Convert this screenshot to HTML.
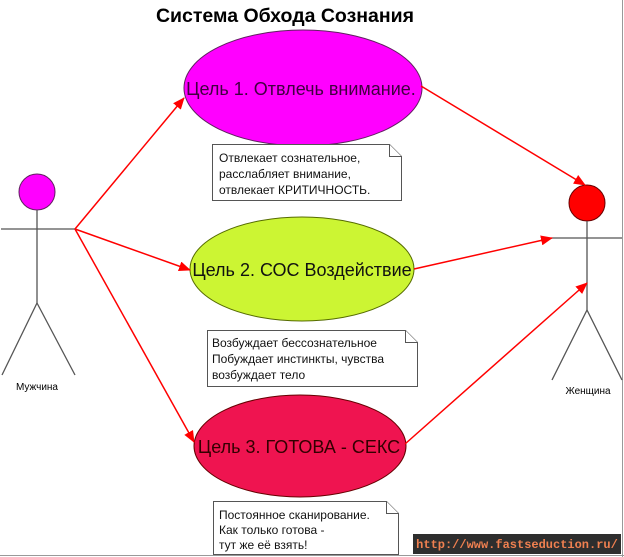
<!DOCTYPE html>
<html><head><meta charset="utf-8"><style>
html,body{margin:0;padding:0;background:#fff;}
svg{display:block;font-family:"Liberation Sans",Arial,sans-serif;}
</style></head><body>
<svg width="624" height="557" viewBox="0 0 624 557" xmlns="http://www.w3.org/2000/svg">
<defs>
<marker id="ar" markerWidth="12" markerHeight="10" refX="11" refY="5" orient="auto" markerUnits="userSpaceOnUse">
<path d="M0,0 L12,5 L0,10 z" fill="#f00"/>
</marker>
</defs>
<rect x="0" y="0" width="624" height="557" fill="#fff"/>
<line x1="622.5" y1="0" x2="622.5" y2="557" stroke="#999" stroke-width="1"/>
<line x1="0" y1="555.5" x2="624" y2="555.5" stroke="#999" stroke-width="1"/>
<text x="285" y="22" font-size="19.5" font-weight="bold" text-anchor="middle">Система Обхода Сознания</text>

<!-- Man -->
<circle cx="37" cy="192" r="18" fill="#f0f" stroke="#602060" stroke-width="1"/>
<g stroke="#555" stroke-width="1.3" fill="none">
<line x1="1" y1="229" x2="75" y2="229"/>
<line x1="37" y1="210" x2="37" y2="303"/>
<line x1="37" y1="303" x2="2" y2="375"/>
<line x1="37" y1="303" x2="75" y2="375"/>
</g>
<text x="37" y="390" font-size="10" text-anchor="middle">Мужчина</text>

<!-- Woman -->
<circle cx="587" cy="203" r="18" fill="#f00" stroke="#600" stroke-width="1"/>
<g stroke="#555" stroke-width="1.3" fill="none">
<line x1="552" y1="238" x2="622" y2="238"/>
<line x1="587" y1="221" x2="587" y2="310"/>
<line x1="587" y1="310" x2="552" y2="380"/>
<line x1="587" y1="310" x2="622" y2="380"/>
</g>
<text x="588" y="394" font-size="10" text-anchor="middle">Женщина</text>

<!-- Ellipses -->
<ellipse cx="303" cy="88" rx="119" ry="58" fill="#f0f" stroke="#602060" stroke-width="1"/>
<text x="301" y="95" font-size="18" text-anchor="middle" fill="#400040">Цель 1. Отвлечь внимание.</text>
<ellipse cx="302" cy="269" rx="112" ry="52" fill="#ccf533" stroke="#556b00" stroke-width="1"/>
<text x="302" y="276" font-size="18" text-anchor="middle" fill="#111">Цель 2. СОС Воздействие</text>
<ellipse cx="300" cy="446" rx="106" ry="51" fill="#ef1450" stroke="#600" stroke-width="1"/>
<text x="299" y="453" font-size="18" text-anchor="middle" fill="#300">Цель 3. ГОТОВА - СЕКС</text>

<!-- Notes -->
<g fill="#fff" stroke="#555" stroke-width="1">
<path d="M212.5,144.5 H389.5 L401.5,156.5 V200.5 H212.5 Z"/>
<path d="M389.5,144.5 V156.5 H401.5"/>
<path d="M207.5,330.5 H405.5 L417.5,342.5 V386.5 H207.5 Z"/>
<path d="M405.5,330.5 V342.5 H417.5"/>
<path d="M213.5,501.5 H386.5 L398.5,513.5 V554.5 H213.5 Z"/>
<path d="M386.5,501.5 V513.5 H398.5"/>
</g>
<g font-size="12" fill="#111">
<text x="219" y="162">Отвлекает сознательное,</text>
<text x="219" y="178">расслабляет внимание,</text>
<text x="219" y="194">отвлекает КРИТИЧНОСТЬ.</text>
<text x="212" y="347">Возбуждает бессознательное</text>
<text x="212" y="363">Побуждает инстинкты, чувства</text>
<text x="212" y="379">возбуждает тело</text>
<text x="219" y="519">Постоянное сканирование.</text>
<text x="219" y="534">Как только готова -</text>
<text x="219" y="549">тут же её взять!</text>
</g>

<!-- Arrows -->
<g stroke="#f00" stroke-width="1.5" fill="none" marker-end="url(#ar)">
<line x1="75" y1="229" x2="184" y2="98"/>
<line x1="75" y1="229" x2="190" y2="270"/>
<line x1="75" y1="229" x2="194" y2="442"/>
<line x1="421" y1="86" x2="585" y2="185"/>
<line x1="414" y1="269" x2="552" y2="238"/>
<line x1="405" y1="444" x2="587" y2="283"/>
</g>

<!-- Watermark -->
<rect x="413" y="534" width="208" height="20" fill="#2e2e2e"/>
<text x="517" y="548" font-size="12" font-weight="bold" font-family="Liberation Mono,monospace" fill="#f08050" text-anchor="middle">http://www.fastseduction.ru/</text>
</svg>
</body></html>
